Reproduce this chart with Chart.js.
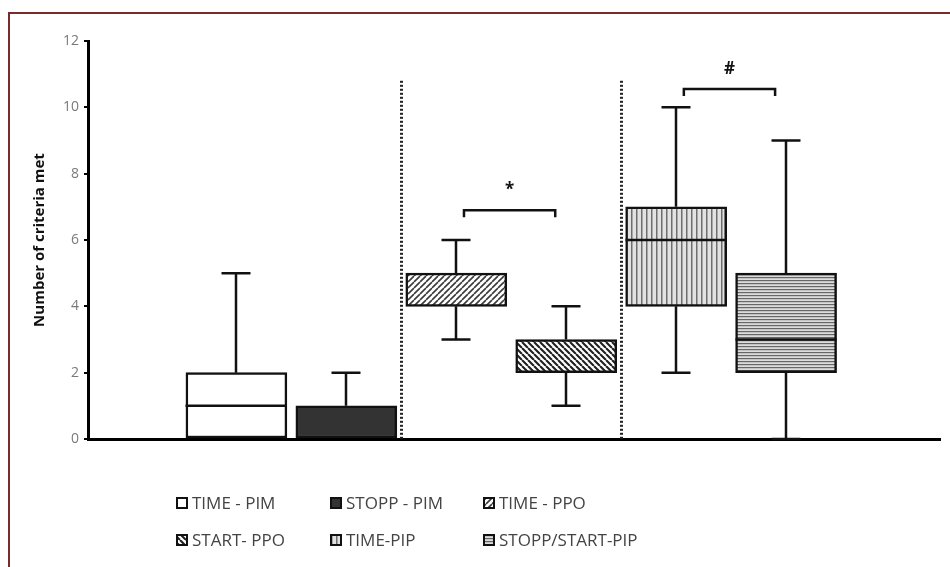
<!DOCTYPE html>
<html>
<head>
<meta charset="utf-8">
<script src="https://cdn.jsdelivr.net/npm/chart.js@4/dist/chart.umd.min.js"></script>
<style>
  html, body { margin: 0; padding: 0; background: #fff; }
  canvas { display: block; }
</style>
</head>
<body>
<canvas id="chart" width="950" height="567"></canvas>
<script>
// DATA
const categories = ["TIME - PIM", "STOPP - PIM", "TIME - PPO", "START- PPO", "TIME-PIP", "STOPP/START-PIP"];
const whiskerMin = [0, 0, 3, 1, 2, 0];
const q1 = [0, 0, 4, 2, 4, 2];
const median = [1, 0, 4, 2, 6, 3];
const q3 = [2, 1, 5, 3, 7, 5];
const whiskerMax = [5, 2, 6, 4, 10, 9];

// group separators sit between these category numbers
const separatorAfter = [2, 4];
const separatorTop = 10.8;

// significance brackets
const sigFrom = [3, 5];
const sigTo = [4, 6];
const sigLevel = [6.9, 10.55];
const sigLabels = ["*", "#"];

const FONT = "'Open Sans', sans-serif";

// HATCH PATTERNS
function makePattern(kind) {
  const c = document.createElement("canvas");
  const g = c.getContext("2d");
  if (kind === "white" || kind === "dark") {
    c.width = c.height = 4;
    g.fillStyle = kind === "white" ? "#fff" : "#333";
    g.fillRect(0, 0, 4, 4);
    return g.createPattern(c, "repeat");
  }
  if (kind === "fwd" || kind === "back") {
    const s = 6;
    c.width = c.height = s;
    g.fillStyle = "#fff";
    g.fillRect(0, 0, s, s);
    g.strokeStyle = kind === "fwd" ? "#3a3a3a" : "#222";
    g.lineWidth = kind === "fwd" ? 1.6 : 2.1;
    g.beginPath();
    for (let k = -1; k <= 1; k++) {
      if (kind === "fwd") {
        g.moveTo(k * s, s); g.lineTo(k * s + s, 0);
      } else {
        g.moveTo(k * s, 0); g.lineTo(k * s + s, s);
      }
    }
    g.stroke();
    return g.createPattern(c, "repeat");
  }
  if (kind === "vert") {
    c.width = 5; c.height = 4;
    g.fillStyle = "#e2e2e2";
    g.fillRect(0, 0, 5, 4);
    g.fillStyle = "#6e6e6e";
    g.fillRect(1, 0, 1.5, 4);
    return g.createPattern(c, "repeat");
  }
  // horizontal
  c.width = 4; c.height = 3;
  g.fillStyle = "#dcdcdc";
  g.fillRect(0, 0, 4, 3);
  g.fillStyle = "#666";
  g.fillRect(0, 1, 4, 1.2);
  return g.createPattern(c, "repeat");
}

const fills = ["white", "dark", "fwd", "back", "vert", "horiz"].map(makePattern);

// BOX EXTRAS: whiskers, medians, separators, brackets, legend
const boxExtras = {
  id: "boxExtras",
  beforeDraw(chart) {
    const ctx = chart.ctx;
    ctx.save();
    ctx.strokeStyle = "#7a2a2a";
    ctx.lineWidth = 2;
    ctx.beginPath();
    ctx.moveTo(9, chart.height);
    ctx.lineTo(9, 13);
    ctx.lineTo(chart.width, 13);
    ctx.stroke();
    ctx.restore();
  },
  beforeDatasetsDraw(chart) {
    const { ctx, scales: { x, y } } = chart;
    ctx.save();
    ctx.strokeStyle = "#222";
    ctx.lineWidth = 3;
    ctx.setLineDash([2, 2]);
    separatorAfter.forEach(n => {
      const px = Math.round(x.getPixelForValue(n + 0.5)) + 0.5;
      ctx.beginPath();
      ctx.moveTo(px, y.getPixelForValue(separatorTop));
      ctx.lineTo(px, y.getPixelForValue(0));
      ctx.stroke();
    });
    ctx.restore();
  },
  afterDatasetsDraw(chart) {
    const { ctx, scales: { x, y } } = chart;
    const meta = chart.getDatasetMeta(0);
    ctx.save();
    ctx.strokeStyle = "#111";
    ctx.lineWidth = 2.5;
    const cap = 14.5;
    meta.data.forEach((bar, i) => {
      const cx = Math.round(bar.x);
      const half = bar.width / 2;
      ctx.beginPath();
      if (whiskerMax[i] > q3[i]) {
        const top = y.getPixelForValue(whiskerMax[i]);
        ctx.moveTo(cx, y.getPixelForValue(q3[i]));
        ctx.lineTo(cx, top);
        ctx.moveTo(cx - cap, top);
        ctx.lineTo(cx + cap, top);
      }
      if (whiskerMin[i] < q1[i]) {
        const bot = y.getPixelForValue(whiskerMin[i]);
        ctx.moveTo(cx, y.getPixelForValue(q1[i]));
        ctx.lineTo(cx, bot);
        ctx.moveTo(cx - cap, bot);
        ctx.lineTo(cx + cap, bot);
      }
      if (median[i] > q1[i] && median[i] < q3[i]) {
        const my = y.getPixelForValue(median[i]);
        ctx.moveTo(cx - half, my);
        ctx.lineTo(cx + half, my);
      }
      ctx.stroke();
    });

    // significance brackets
    sigLabels.forEach((lab, k) => {
      const x1 = x.getPixelForValue(sigFrom[k] + 0.07);
      const x2 = x.getPixelForValue(sigTo[k] - 0.1);
      const by = y.getPixelForValue(sigLevel[k]);
      ctx.beginPath();
      ctx.moveTo(x1, by + 7);
      ctx.lineTo(x1, by);
      ctx.lineTo(x2, by);
      ctx.lineTo(x2, by + 7);
      ctx.stroke();
      ctx.fillStyle = "#111";
      ctx.font = "bold 17px " + FONT;
      ctx.textAlign = "center";
      ctx.textBaseline = "middle";
      ctx.fillText(lab, (x1 + x2) / 2, by - 20);
    });
    ctx.restore();
  },
  afterDraw(chart) {
    const ctx = chart.ctx;
    const cols = [176, 330, 483];
    const rows = [503, 540];
    ctx.save();
    ctx.font = "17px " + FONT;
    ctx.textBaseline = "middle";
    ctx.textAlign = "left";
    categories.forEach((name, i) => {
      const lx = cols[i % 3];
      const ly = rows[Math.floor(i / 3)];
      ctx.fillStyle = fills[i];
      ctx.fillRect(lx, ly - 6, 12, 12);
      ctx.strokeStyle = "#111";
      ctx.lineWidth = 2;
      ctx.strokeRect(lx + 1, ly - 5, 10, 10);
      ctx.fillStyle = "#444";
      ctx.fillText(name, lx + 16, ly + 1);
    });
    ctx.restore();
  }
};

const ctx = document.getElementById("chart");

new Chart(ctx, {
  type: "bar",
  data: {
    datasets: [{
      label: "criteria",
      data: categories.map((c, i) => ({ x: i + 1, y: [q1[i], q3[i]] })),
      backgroundColor: fills,
      borderColor: "#111",
      borderWidth: 2.5,
      borderSkipped: false,
      barThickness: 101
    }]
  },
  options: {
    responsive: false,
    animation: false,
    layout: { padding: { left: 10, right: 10, top: 41, bottom: 0 } },
    plugins: {
      legend: { display: false },
      tooltip: { enabled: false }
    },
    scales: {
      x: {
        type: "linear",
        offset: false,
        min: -0.35,
        max: 7.4,
        ticks: { display: false },
        grid: { display: false },
        border: { display: true, color: "#000", width: 3 },
        afterFit(scale) { scale.height = 128; }
      },
      y: {
        min: 0,
        max: 12,
        ticks: { stepSize: 2, color: "#7a7a7a", padding: 5, font: { family: FONT, size: 14 } },
        grid: { drawOnChartArea: false, drawTicks: true, tickLength: 4, color: "#000", lineWidth: 2 },
        border: { display: true, color: "#000", width: 3 },
        title: {
          display: true,
          text: "Number of criteria met",
          color: "#111",
          font: { family: FONT, size: 15, weight: "bold" },
          padding: { top: 21, bottom: 0 }
        },
        afterFit(scale) { scale.width = 78; }
      }
    }
  },
  plugins: [boxExtras]
});
</script>
</body>
</html>
